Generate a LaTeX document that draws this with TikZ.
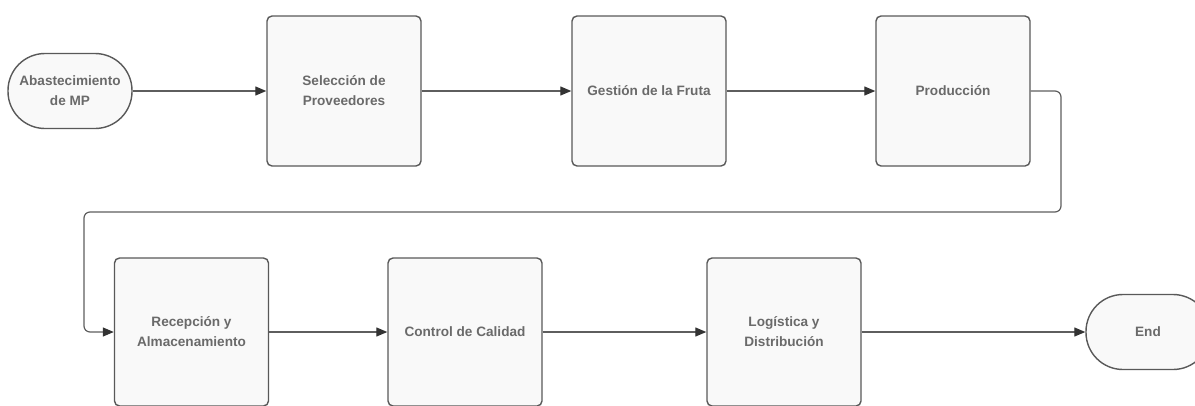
\documentclass[tikz,border=0pt]{standalone}
\usepackage{fontspec}
\setmainfont{Liberation Sans}
\usetikzlibrary{arrows.meta,positioning}
\definecolor{boxfill}{HTML}{F9F9F9}
\definecolor{boxline}{HTML}{595959}
\definecolor{txt}{HTML}{6A6A6A}
\definecolor{wire}{HTML}{5E5E5E}
\definecolor{tip}{HTML}{333333}
\tikzset{
  procbox/.style={draw=boxline, fill=boxfill, line width=1.4pt, rounded corners=5pt,
    minimum width=154pt, minimum height=150pt, inner sep=0pt, align=center,
    text=txt, font=\fontsize{13.6}{20}\selectfont\bfseries},
  termbox/.style={draw=boxline, fill=boxfill, line width=1.4pt, rounded corners=37pt,
    minimum width=124pt, minimum height=75pt, inner sep=0pt, align=center,
    text=txt, font=\fontsize{13.6}{20}\selectfont\bfseries},
  flow/.style={draw=wire, line width=1.2pt, rounded corners=6pt,
    -{Triangle[length=11pt,width=9pt,color=tip]}}
}
\begin{document}
\begin{tikzpicture}[x=1pt,y=-1pt]
\useasboundingbox (0,0) rectangle (1195,405);
\clip (0,0) rectangle (1195,405);
% top row
\node[termbox] (start) at (70,91) {Abastecimiento\\de MP};
\node[procbox] (sel) at (344,91) {Selección de\\Proveedores};
\node[procbox] (ges) at (649,91) {Gestión de la Fruta};
\node[procbox] (pro) at (953,91) {Producción};
% bottom row
\node[procbox, minimum height=148pt] (rec) at (191.5,332) {Recepción y\\Almacenamiento};
\node[procbox, minimum height=148pt] (cal) at (465,332) {Control de Calidad};
\node[procbox, minimum height=148pt] (log) at (784,332) {Logística y\\Distribución};
\node[termbox] (end) at (1148,332) {End};
% turn-around path between rows
\coordinate (t1) at (1061,212);
\coordinate (t2) at (84,212);
% connectors
\draw[flow] (start) -- (sel);
\draw[flow] (sel) -- (ges);
\draw[flow] (ges) -- (pro);
\draw[flow] (pro.east) -- (pro.east -| t1) -- (t1) -- (t2) -- (t2 |- rec.west) -- (rec.west);
\draw[flow] (rec) -- (cal);
\draw[flow] (cal) -- (log);
\draw[flow] (log) -- (end);
\end{tikzpicture}
\end{document}
